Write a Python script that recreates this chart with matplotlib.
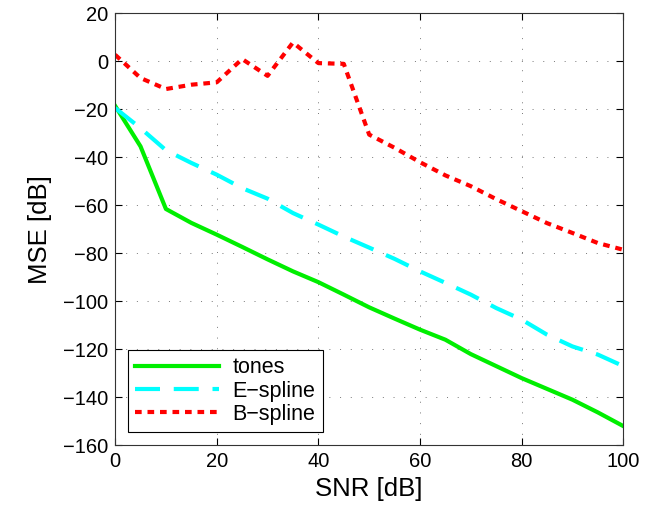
import matplotlib
matplotlib.use('Agg')
import matplotlib.pyplot as plt

# SNR axis (dB)
snr = [0, 5, 10, 15, 20, 25, 30, 35, 40, 45, 50, 55, 60, 65, 70, 75, 80, 85, 90, 95, 100]

# MSE curves (dB)
tones = [-18.5, -35.4, -61.5, -67.3, -72.2, -77.3, -82.5, -87.5, -92, -97.2, -102.5,
         -107.2, -111.8, -116, -122, -127, -132, -136.5, -141, -146.3, -152]
e_spline = [-19.4, -27.8, -37, -42.3, -47.2, -52.8, -57.2, -63.2, -68, -73, -77.6,
            -82.3, -87.5, -92.3, -97.2, -102.8, -107.6, -113.9, -118.8, -122.2, -127]
b_spline = [2.8, -6.9, -11.5, -9.7, -8.7, 1, -6, 7.9, -0.7, -1, -30.5,
            -36, -42, -47.5, -52, -57.4, -62.4, -67.4, -71.5, -75.7, -78.5]

plt.rcParams['font.family'] = ['Liberation Sans', 'DejaVu Sans']

fig = plt.figure(figsize=(6.54, 5.18), dpi=100)
ax = fig.add_axes([0.176, 0.1404, 0.777, 0.8336])

ax.plot(snr, tones, color='#00ee00', lw=3, label='tones')
ax.plot(snr, e_spline, color='#00ffff', lw=3, dashes=(6, 3.3), label='E\u2212spline')
ax.plot(snr, b_spline, color='#ff0000', lw=3, dashes=(1.6, 1.4), label='B\u2212spline')

ax.set_xlim(0, 100)
ax.set_ylim(-160, 20)
ax.set_xticks(range(0, 101, 20))
ax.set_yticks(range(-160, 21, 20))
ax.grid(True, linestyle=(0, (1, 10)), color='#777777', lw=0.7)
ax.tick_params(direction='in', top=True, right=True, labelsize=14.5, length=5, pad=5)
ax.set_xlabel('SNR [dB]', fontsize=18.5, labelpad=4)
ax.set_ylabel('MSE [dB]', fontsize=18.5, labelpad=8)
for s in ax.spines.values():
    s.set_color('#333333')

leg = ax.legend(loc='lower left', bbox_to_anchor=(0.025, 0.03), borderaxespad=0,
                fontsize=15.5, fancybox=False, framealpha=1, edgecolor='black',
                handlelength=3.9, borderpad=0.35, labelspacing=0.1, handletextpad=0.6)
leg.get_frame().set_linewidth(0.8)

fig.savefig('out.png', dpi=100)
